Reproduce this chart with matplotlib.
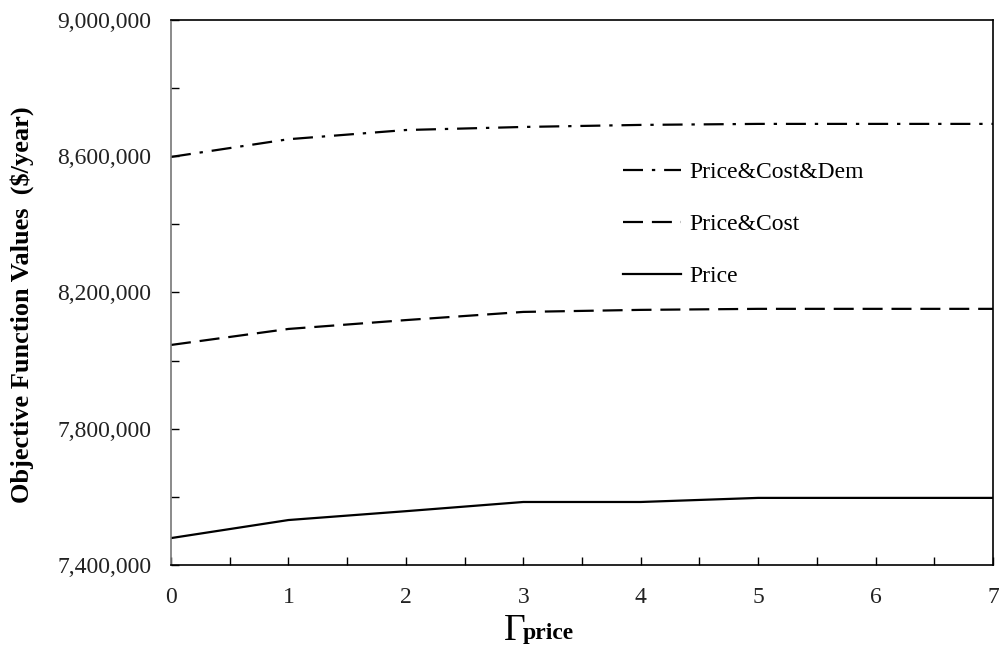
import numpy as np
import matplotlib.pyplot as plt
from matplotlib.ticker import FuncFormatter, FixedLocator

plt.rcParams["font.family"] = ["Liberation Serif", "DejaVu Serif"]

# ---------------------------------------------------------------
# data
# ---------------------------------------------------------------
gamma = [0, 1, 2, 3, 4, 5, 6, 7]
price_cost_dem = [8598000, 8650000, 8677000, 8686000, 8692000, 8695000, 8695000, 8695000]
price_cost = [8046000, 8093000, 8119000, 8143000, 8149000, 8152000, 8152000, 8152000]
price = [7479000, 7532000, 7558000, 7585000, 7585000, 7597000, 7597000, 7597000]

y_major = [7400000, 7800000, 8200000, 8600000, 9000000]
y_minor = [7600000, 8000000, 8400000, 8800000]
x_major = [0, 1, 2, 3, 4, 5, 6, 7]
x_minor = [0.5, 1.5, 2.5, 3.5, 4.5, 5.5, 6.5]

fig = plt.figure(figsize=(9.99, 6.49), dpi=100)
ax = fig.add_axes([171 / 999, 1 - 565 / 649, (993 - 171) / 999, (565 - 20) / 649])

ax.plot(gamma, price_cost_dem, color="black", lw=1.6, dashes=(9, 4, 1.5, 4), label="Price&Cost&Dem")
ax.plot(gamma, price_cost, color="black", lw=1.6, dashes=(9, 4), label="Price&Cost")
ax.plot(gamma, price, color="black", lw=1.6, label="Price")

ax.set_xlim(0, 7)
ax.set_ylim(7400000, 9000000)
ax.yaxis.set_major_locator(FixedLocator(y_major))
ax.yaxis.set_minor_locator(FixedLocator(y_minor))
ax.xaxis.set_major_locator(FixedLocator(x_major))
ax.xaxis.set_minor_locator(FixedLocator(x_minor))
ax.yaxis.set_major_formatter(FuncFormatter(lambda v, p: f"{int(v):,}"))

ax.tick_params(axis="both", which="both", direction="in", labelsize=17, colors="black")
ax.tick_params(axis="both", which="both", length=6, width=1)
ax.tick_params(axis="y", which="both", pad=14, labelcolor="#222222")
ax.tick_params(axis="x", which="both", pad=16, labelcolor="#222222")

for s in ax.spines.values():
    s.set_linewidth(1.2)
    s.set_color("black")
ax.spines["left"].set_color("#777777")

ax.set_ylabel("Objective Function Values  ($/year)", fontsize=19, fontweight="bold")
ax.yaxis.set_label_coords(-(171 - 34) / 822, 1 - (305 - 20) / 545)

# x label: large Gamma followed by bold "price"
fig.text(504 / 999, 1 - 640 / 649, "\u0393", fontsize=27, ha="left", va="baseline")
fig.text(523 / 999, 1 - 639 / 649, "price", fontsize=17, fontweight="bold", ha="left", va="baseline")

ax.legend(loc="upper left", bbox_to_anchor=((602 - 171) / 822, 1 - (140 - 20) / 545),
          frameon=False, fontsize=17, handlelength=2.45, handletextpad=0.35, labelspacing=1.3)

fig.savefig("out.png", dpi=100)
